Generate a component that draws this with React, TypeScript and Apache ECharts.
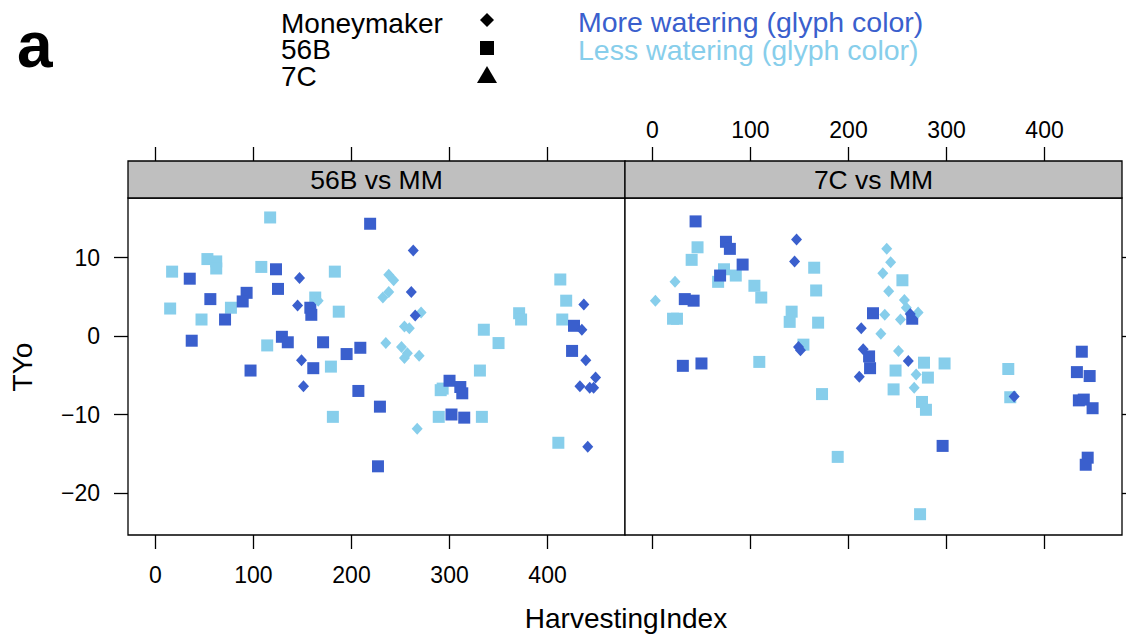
import React, { useEffect, useRef } from 'react';
import * as echarts from 'echarts';

const DARK = '#3A5FCD';
const LIGHT = '#87CEEB';
const FONT = "'Liberation Sans', Arial, Helvetica, sans-serif";

const xTicks = [0, 100, 200, 300, 400];
const yTicks = [-20, -10, 0, 10];
const panelTitles = ['56B vs MM', '7C vs MM'];

// Panel 1: 56B vs MM  — [HarvestingIndex, TYo]
const mmMore56B: [number, number][] = [
  [147, 7.4], [145, 3.9], [149, -3.1], [151, -6.4], [263, 10.9], [261, 5.6], [265, 2.6],
  [437, 4.0], [435, 0.8], [439, -3.1], [449, -5.3], [433, -6.4], [443, -6.6], [447, -6.6], [441, -14.1],
];
const mmLess56B: [number, number][] = [
  [166, 4.5], [238, 7.8], [243, 7.1], [232, 4.9], [238, 5.6], [271, 3.0], [254, 1.2], [259, 1.0],
  [235, -0.9], [251, -1.4], [254, -2.8], [257, -2.2], [269, -2.5], [267, -11.8],
];
const b56More: [number, number][] = [
  [219, 14.3], [35, 7.3], [123, 8.5], [125, 6.0], [56, 4.7], [93, 5.5], [89, 4.4], [158, 3.6],
  [159, 2.7], [71, 2.1], [37, -0.6], [129, -0.1], [135, -0.8], [171, -0.8], [209, -1.5], [195, -2.3],
  [97, -4.4], [161, -4.1], [207, -7.0], [229, -9.0], [227, -16.6], [300, -5.7], [311, -6.5],
  [313, -7.3], [302, -10.0], [315, -10.4], [427, 1.3], [425, -1.9],
];
const b56Less: [number, number][] = [
  [117, 15.1], [53, 9.8], [62, 9.5], [62, 8.6], [17, 8.2], [108, 8.8], [183, 8.2], [163, 4.9],
  [15, 3.5], [187, 3.1], [77, 3.6], [47, 2.1], [114, -1.2], [179, -3.9], [181, -10.3], [413, 7.2],
  [419, 4.5], [371, 2.9], [373, 2.1], [415, 2.1], [335, 0.8], [350, -0.9], [331, -4.4], [291, -6.9],
  [293, -6.7], [289, -10.3], [333, -10.3], [411, -13.6],
];

// Panel 2: 7C vs MM
const mmMore7C: [number, number][] = [
  [147, 12.3], [145, 9.5], [149, -1.4], [151, -1.8], [213, 1.0], [215, -1.7], [211, -5.2],
  [263, 2.8], [261, -3.2], [369, -7.7],
];
const mmLess7C: [number, number][] = [
  [23, 6.9], [3, 4.5], [239, 11.1], [243, 9.4], [235, 8.0], [241, 5.7], [257, 4.6], [259, 3.6],
  [271, 3.0], [237, 2.7], [253, 2.1], [233, 0.3], [251, -1.9], [269, -4.9], [267, -6.6],
];
const c7More: [number, number][] = [
  [44, 14.6], [75, 12.0], [79, 11.1], [92, 9.1], [69, 7.7], [33, 4.7], [42, 4.5], [31, -3.8],
  [50, -3.5], [225, 2.9], [221, -2.6], [222, -4.1], [265, 2.2], [296, -14.0], [438, -2.0],
  [433, -4.6], [446, -5.1], [435, -8.2], [440, -8.1], [449, -9.2], [444, -15.5], [442, -16.4],
];
const c7Less: [number, number][] = [
  [46, 11.3], [40, 9.7], [73, 8.5], [67, 6.9], [85, 7.7], [104, 6.4], [111, 4.9], [21, 2.2],
  [25, 2.2], [142, 3.1], [140, 1.8], [165, 8.7], [167, 5.8], [169, 1.7], [154, -1.1], [109, -3.3],
  [173, -7.4], [189, -15.4], [255, 7.1], [277, -3.4], [298, -3.5], [363, -4.2], [248, -4.4],
  [281, -5.3], [246, -6.8], [275, -8.4], [279, -9.4], [365, -7.8], [273, -22.7],
];

const X_MIN = -28;
const X_MAX = 479;
const Y_MIN = -25.35;
const Y_MAX = 17.58;

const minus = (v: number) => (v < 0 ? '\u2212' + Math.abs(v) : String(v));

function buildOption() {
  const panelLeft = [128, 625];
  const panelW = 497;
  const tick = { show: true, inside: false, length: 14, lineStyle: { color: '#000', width: 1.3 } };
  const label = { color: '#000', fontSize: 23, fontFamily: FONT };

  const grid: any[] = [];
  panelLeft.forEach((l) => {
    grid.push({
      left: l, top: 198, width: panelW, height: 337, show: true,
      borderColor: '#000', borderWidth: 1.3, backgroundColor: '#fff', outerBoundsMode: 'none',
    });
  });
  panelLeft.forEach((l) => {
    grid.push({
      left: l, top: 161, width: panelW, height: 37, show: true,
      borderColor: '#000', borderWidth: 1.3, backgroundColor: '#bfbfbf', outerBoundsMode: 'none',
    });
  });

  const xAxis: any[] = [0, 1, 2, 3].map((g) => {
    const isTop = g >= 2;
    const showLabel = g === 0 || g === 3;
    return {
      type: 'value', gridIndex: g, position: isTop ? 'top' : 'bottom',
      min: X_MIN, max: X_MAX,
      axisLine: { show: false, onZero: false },
      splitLine: { show: false },
      axisTick: { ...tick, customValues: xTicks },
      axisLabel: { ...label, margin: isTop ? 20 : 28, show: showLabel, customValues: xTicks },
    };
  });

  const yAxis: any[] = [0, 1, 2, 3].map((g) => {
    if (g >= 2) {
      return { type: 'value', gridIndex: g, min: 0, max: 1, show: false };
    }
    return {
      type: 'value', gridIndex: g, position: g === 0 ? 'left' : 'right',
      min: Y_MIN, max: Y_MAX,
      axisLine: { show: false, onZero: false },
      splitLine: { show: false },
      axisTick: { ...tick, customValues: yTicks },
      axisLabel: { ...label, margin: 28, show: g === 0, customValues: yTicks, formatter: minus },
    };
  });

  const sq = (name: string, data: [number, number][], color: string, idx: number) => ({
    type: 'scatter', name, data, xAxisIndex: idx, yAxisIndex: idx,
    symbol: 'rect', symbolSize: 12, itemStyle: { color, opacity: 1 }, silent: true,
  });
  const dm = (name: string, data: [number, number][], color: string, idx: number) => ({
    type: 'scatter', name, data, xAxisIndex: idx, yAxisIndex: idx,
    symbol: 'diamond', symbolSize: [11, 12], itemStyle: { color, opacity: 1 }, silent: true,
  });

  const series = [
    sq('56B less', b56Less, LIGHT, 0),
    sq('56B more', b56More, DARK, 0),
    dm('Moneymaker less', mmLess56B, LIGHT, 0),
    dm('Moneymaker more', mmMore56B, DARK, 0),
    sq('7C less', c7Less, LIGHT, 1),
    sq('7C more', c7More, DARK, 1),
    dm('Moneymaker less', mmLess7C, LIGHT, 1),
    dm('Moneymaker more', mmMore7C, DARK, 1),
  ];

  const txt = (text: string, x: number, y: number, size: number, extra: any = {}) => ({
    type: 'text', x, y, silent: true,
    style: {
      text, fill: '#000', font: `${size}px ${FONT}`, lineHeight: 22,
      textAlign: 'left', verticalAlign: 'middle', ...extra,
    },
  });

  const graphic: any[] = [
    { type: 'text', x: 17, y: 45, silent: true,
      style: { text: 'a', fill: '#000', font: `bold 64px ${FONT}`, textAlign: 'left', verticalAlign: 'middle' } },
    txt('Moneymaker', 281, 23, 28),
    txt('56B', 281, 49, 28),
    txt('7C', 281, 76, 28),
    { type: 'polygon', silent: true, shape: { points: [[487, 13], [494, 20], [487, 27], [480, 20]] }, style: { fill: '#000' } },
    { type: 'rect', silent: true, shape: { x: 480, y: 41, width: 14, height: 14 }, style: { fill: '#000' } },
    { type: 'polygon', silent: true, shape: { points: [[487, 66], [497, 83], [477, 83]] }, style: { fill: '#000' } },
    txt('More watering (glyph color)', 578, 22, 28.5, { fill: DARK }),
    txt('Less watering (glyph color)', 578, 50, 28.5, { fill: LIGHT }),
    txt(panelTitles[0], 128 + panelW / 2, 180, 26.5, { textAlign: 'center' }),
    txt(panelTitles[1], 625 + panelW / 2, 180, 26.5, { textAlign: 'center' }),
    txt('HarvestingIndex', 626, 618, 28, { textAlign: 'center' }),
    { type: 'text', x: 22, y: 367, rotation: Math.PI / 2, silent: true,
      style: { text: 'TYo', fill: '#000', font: `28px ${FONT}`, textAlign: 'center', verticalAlign: 'middle' } },
  ];

  return {
    animation: false,
    backgroundColor: '#fff',
    textStyle: { fontFamily: FONT },
    grid, xAxis, yAxis, series, graphic,
  };
}

export default function App() {
  const ref = useRef<HTMLDivElement>(null);
  useEffect(() => {
    if (!ref.current) return;
    const chart = echarts.init(ref.current, undefined, { renderer: 'svg' });
    chart.setOption(buildOption() as any);
    return () => chart.dispose();
  }, []);
  return (
    <div
      ref={ref}
      style={{ position: 'fixed', left: 0, top: 0, width: 1126, height: 635, background: '#fff' }}
    />
  );
}
